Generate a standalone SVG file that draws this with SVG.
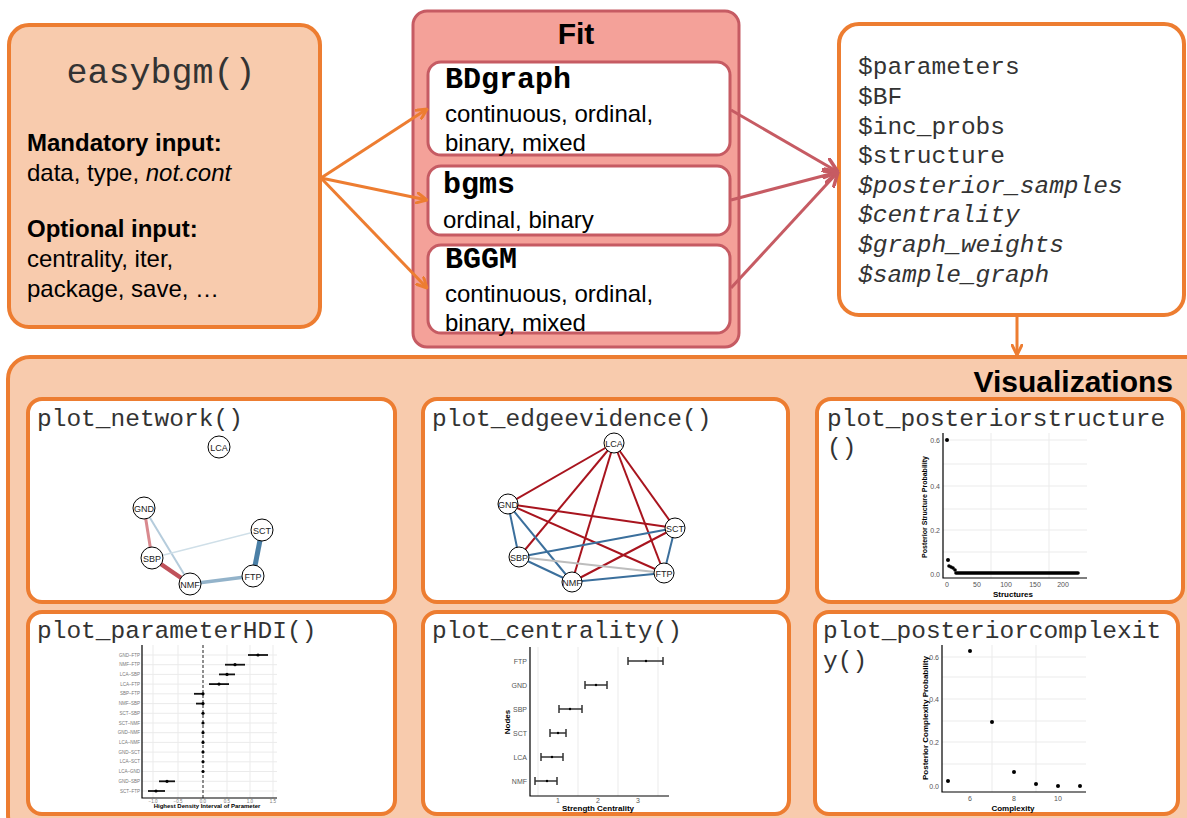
<svg xmlns="http://www.w3.org/2000/svg" width="1187" height="818" viewBox="0 0 1187 818">
<defs>
<marker id="ao" viewBox="0 0 12 12" refX="11" refY="6" markerWidth="12" markerHeight="12" markerUnits="userSpaceOnUse" orient="auto"><path d="M1,1 L11,6 L1,11" fill="none" stroke="#ED7D31" stroke-width="3" stroke-linecap="round"/></marker>
<marker id="ar" viewBox="0 0 16 16" refX="15" refY="8" markerWidth="16" markerHeight="16" markerUnits="userSpaceOnUse" orient="auto"><path d="M1,1 L15,8 L1,15" fill="none" stroke="#C65B63" stroke-width="3.5" stroke-linecap="round"/></marker>
</defs>
<style>
.peach{fill:#F8CBAD;stroke:#ED7D31;stroke-width:4}
.panel{fill:#FFFFFF;stroke:#ED7D31;stroke-width:4}
.fit{fill:#F4A199;stroke:#C65B63;stroke-width:3}
.inner{fill:#FFFFFF;stroke:#C65B63;stroke-width:3}
.sans{font-family:'Liberation Sans',Arial,sans-serif;fill:#000}
.body{font-family:'Liberation Sans',Arial,sans-serif;font-size:24px;fill:#000}
.bold{font-weight:bold}
.mono{font-family:'Liberation Mono','Courier New',monospace;font-size:24.5px;fill:#333}
.pkg{font-family:'Liberation Mono','Courier New',monospace;font-size:30px;font-weight:bold;fill:#000}
.nd{fill:#FFFFFF;stroke:#000;stroke-width:1}
.nl{font-family:'Liberation Sans',Arial,sans-serif;font-size:9px;fill:#222;text-anchor:middle}
.grid{stroke:#EBEBEB;stroke-width:1;fill:none}
.axis{stroke:#000;stroke-width:1.2;fill:none}
.tick{font-family:'Liberation Sans',Arial,sans-serif;font-size:7px;fill:#555}
.alab{font-family:'Liberation Sans',Arial,sans-serif;font-weight:bold;fill:#000;text-anchor:middle}
.hl{font-family:'Liberation Sans',Arial,sans-serif;font-size:4.5px;fill:#777;text-anchor:end}
.ci{stroke:#111;stroke-width:1.8;fill:none}
.eb{stroke:#333;stroke-width:1.5;fill:none}
</style>

<g id="easybgm">
<rect class="peach" x="9" y="25" width="311" height="302" rx="20"/>
<text class="mono" x="161" y="83" text-anchor="middle" style="font-size:35px">easybgm()</text>
<text class="body bold" x="27" y="151">Mandatory input:</text>
<text class="body" x="27" y="181">data, type, <tspan font-style="italic">not.cont</tspan></text>
<text class="body bold" x="27" y="237">Optional input:</text>
<text class="body" x="27" y="267">centrality, iter,</text>
<text class="body" x="27" y="297">package, save, …</text>
</g>

<g id="fit">
<rect class="fit" x="413" y="11" width="326" height="336" rx="14"/>
<text class="sans bold" x="576" y="44" text-anchor="middle" font-size="30">Fit</text>
</g>
<g id="bdgraph">
<rect class="inner" x="428" y="62" width="302" height="93" rx="13"/>
<text class="pkg" x="445" y="88">BDgraph</text>
<text class="body" x="445" y="122">continuous, ordinal,</text>
<text class="body" x="445" y="151">binary, mixed</text>
</g>
<g id="bgms">
<rect class="inner" x="428" y="166" width="302" height="69" rx="13"/>
<text class="pkg" x="443" y="193">bgms</text>
<text class="body" x="443" y="228">ordinal, binary</text>
</g>
<g id="bggm">
<rect class="inner" x="428" y="245" width="302" height="88" rx="13"/>
<text class="pkg" x="445" y="268">BGGM</text>
<text class="body" x="445" y="302">continuous, ordinal,</text>
<text class="body" x="445" y="331">binary, mixed</text>
</g>

<g id="output">
<rect x="839" y="24" width="345" height="291" rx="20" fill="#FFFFFF" stroke="#ED7D31" stroke-width="4"/>
<text class="mono" x="858" y="74">$parameters</text>
<text class="mono" x="858" y="104">$BF</text>
<text class="mono" x="858" y="134">$inc_probs</text>
<text class="mono" x="858" y="163">$structure</text>
<text class="mono" x="858" y="193" font-style="italic">$posterior_samples</text>
<text class="mono" x="858" y="222" font-style="italic">$centrality</text>
<text class="mono" x="858" y="252" font-style="italic">$graph_weights</text>
<text class="mono" x="858" y="282" font-style="italic">$sample_graph</text>
</g>

<g id="visualizations">
<rect class="peach" x="8" y="357" width="1200" height="480" rx="22"/>
<text class="sans bold" x="1173" y="392" text-anchor="end" font-size="30">Visualizations</text>
</g>

<g id="plot_network">
<rect class="panel" x="28" y="399" width="367" height="203" rx="14"/>
<text class="mono" x="37" y="426">plot_network()</text>
<line x1="144" y1="508" x2="152" y2="558" stroke="#D9898E" stroke-width="3"/>
<line x1="144" y1="508" x2="190" y2="584" stroke="#B5CCDC" stroke-width="2"/>
<line x1="152" y1="558" x2="262" y2="530" stroke="#CFDFE8" stroke-width="1.5"/>
<line x1="152" y1="558" x2="190" y2="584" stroke="#C0525B" stroke-width="4.5"/>
<line x1="190" y1="584" x2="253" y2="576" stroke="#93B3CA" stroke-width="3.5"/>
<line x1="262" y1="530" x2="253" y2="576" stroke="#4A7FA6" stroke-width="5"/>
<circle class="nd" cx="219" cy="447" r="11"/><text class="nl" x="219" y="450.5">LCA</text>
<circle class="nd" cx="144" cy="508" r="11"/><text class="nl" x="144" y="511.5">GND</text>
<circle class="nd" cx="262" cy="530" r="11"/><text class="nl" x="262" y="533.5">SCT</text>
<circle class="nd" cx="152" cy="558" r="11"/><text class="nl" x="152" y="561.5">SBP</text>
<circle class="nd" cx="253" cy="576" r="11"/><text class="nl" x="253" y="579.5">FTP</text>
<circle class="nd" cx="190" cy="584" r="11"/><text class="nl" x="190" y="587.5">NMF</text>
</g>

<g id="plot_edgeevidence">
<rect class="panel" x="423" y="399" width="365" height="203" rx="14"/>
<text class="mono" x="432" y="426">plot_edgeevidence()</text>
<g stroke="#A8141E" stroke-width="2">
<line x1="614" y1="443" x2="508" y2="504"/>
<line x1="614" y1="443" x2="519" y2="557"/>
<line x1="614" y1="443" x2="572" y2="582"/>
<line x1="614" y1="443" x2="664" y2="573"/>
<line x1="614" y1="443" x2="675" y2="528"/>
<line x1="508" y1="504" x2="675" y2="528"/>
<line x1="508" y1="504" x2="664" y2="573"/>
<line x1="675" y1="528" x2="572" y2="582"/>
</g>
<g stroke="#3B6F9C" stroke-width="2">
<line x1="508" y1="504" x2="519" y2="557"/>
<line x1="508" y1="504" x2="572" y2="582"/>
<line x1="519" y1="557" x2="675" y2="528"/>
<line x1="519" y1="557" x2="572" y2="582"/>
<line x1="572" y1="582" x2="664" y2="573"/>
<line x1="675" y1="528" x2="664" y2="573"/>
</g>
<line x1="519" y1="557" x2="664" y2="573" stroke="#BDBDBD" stroke-width="2"/>
<circle class="nd" cx="614" cy="443" r="10"/><text class="nl" x="614" y="446.5">LCA</text>
<circle class="nd" cx="508" cy="504" r="10"/><text class="nl" x="508" y="507.5">GND</text>
<circle class="nd" cx="675" cy="528" r="10"/><text class="nl" x="675" y="531.5">SCT</text>
<circle class="nd" cx="519" cy="557" r="10"/><text class="nl" x="519" y="560.5">SBP</text>
<circle class="nd" cx="664" cy="573" r="10"/><text class="nl" x="664" y="576.5">FTP</text>
<circle class="nd" cx="572" cy="582" r="10"/><text class="nl" x="572" y="585.5">NMF</text>
</g>

<g id="plot_posteriorstructure">
<rect class="panel" x="817" y="399" width="366" height="203" rx="14"/>
<text class="mono" x="827" y="426">plot_posteriorstructure</text>
<text class="mono" x="827" y="455">()</text>
<g class="grid">
<line x1="943" y1="440" x2="1087" y2="440"/><line x1="943" y1="464" x2="1087" y2="464"/>
<line x1="943" y1="486" x2="1087" y2="486"/><line x1="943" y1="509" x2="1087" y2="509"/>
<line x1="943" y1="530" x2="1087" y2="530"/><line x1="943" y1="552" x2="1087" y2="552"/>
<line x1="991" y1="433" x2="991" y2="578"/><line x1="1049" y1="433" x2="1049" y2="578"/>
</g>
<path class="axis" d="M943,433 V578 H1087"/>
<g class="tick" text-anchor="end">
<text x="940" y="442.5">0.6</text><text x="940" y="488.5">0.4</text><text x="940" y="532.5">0.2</text><text x="940" y="576.5">0.0</text>
</g>
<g class="tick" text-anchor="middle">
<text x="947" y="587">0</text><text x="977" y="587">50</text><text x="1006" y="587">100</text><text x="1035" y="587">150</text><text x="1063" y="587">200</text>
</g>
<g fill="#000">
<circle cx="947" cy="440" r="2"/><circle cx="948" cy="560" r="2"/>
<circle cx="949" cy="566" r="1.8"/><circle cx="951" cy="567" r="1.8"/><circle cx="953" cy="568" r="1.8"/><circle cx="955" cy="570" r="1.8"/>
</g>
<line x1="956" y1="573" x2="1078" y2="573" stroke="#000" stroke-width="3.6" stroke-linecap="round"/>
<text class="alab" x="0" y="0" font-size="7" transform="translate(927,507) rotate(-90)">Posterior Structure Probability</text>
<text class="alab" x="1013" y="597" font-size="8">Structures</text>
</g>

<g id="plot_parameterHDI">
<rect class="panel" x="28" y="612" width="367" height="202" rx="14"/>
<text class="mono" x="37" y="638">plot_parameterHDI()</text>
<g class="grid">
<line x1="153" y1="645" x2="153" y2="798"/><line x1="178" y1="645" x2="178" y2="798"/><line x1="227" y1="645" x2="227" y2="798"/><line x1="250" y1="645" x2="250" y2="798"/><line x1="273" y1="645" x2="273" y2="798"/>
<line x1="142" y1="655" x2="277" y2="655"/><line x1="142" y1="664.7" x2="277" y2="664.7"/><line x1="142" y1="674.4" x2="277" y2="674.4"/><line x1="142" y1="684.1" x2="277" y2="684.1"/><line x1="142" y1="693.8" x2="277" y2="693.8"/><line x1="142" y1="703.6" x2="277" y2="703.6"/><line x1="142" y1="713.3" x2="277" y2="713.3"/><line x1="142" y1="723" x2="277" y2="723"/><line x1="142" y1="732.7" x2="277" y2="732.7"/><line x1="142" y1="742.4" x2="277" y2="742.4"/><line x1="142" y1="752.1" x2="277" y2="752.1"/><line x1="142" y1="761.8" x2="277" y2="761.8"/><line x1="142" y1="771.5" x2="277" y2="771.5"/><line x1="142" y1="781.3" x2="277" y2="781.3"/><line x1="142" y1="791" x2="277" y2="791"/>
</g>
<line x1="203" y1="645" x2="203" y2="798" stroke="#444" stroke-width="1.2" stroke-dasharray="3,2"/>
<path class="axis" d="M142,645 V798 H277"/>
<g class="hl">
<text x="140" y="656.5">GND–FTP</text><text x="140" y="666.2">NMF–FTP</text><text x="140" y="675.9">LCA–SBP</text><text x="140" y="685.6">LCA–FTP</text><text x="140" y="695.3">SBP–FTP</text><text x="140" y="705.1">NMF–SBP</text><text x="140" y="714.8">SCT–SBP</text><text x="140" y="724.5">SCT–NMF</text><text x="140" y="734.2">GND–NMF</text><text x="140" y="743.9">LCA–NMF</text><text x="140" y="753.6">GND–SCT</text><text x="140" y="763.3">LCA–SCT</text><text x="140" y="773">LCA–GND</text><text x="140" y="782.8">GND–SBP</text><text x="140" y="792.5">SCT–FTP</text>
</g>
<g class="hl" style="text-anchor:middle">
<text x="153" y="802.5">−1.0</text><text x="178" y="802.5">−0.5</text><text x="203" y="802.5">0.0</text><text x="227" y="802.5">0.5</text><text x="250" y="802.5">1.0</text><text x="273" y="802.5">1.5</text>
</g>
<g class="ci">
<line x1="248" y1="655" x2="268" y2="655"/><line x1="225" y1="664.7" x2="245" y2="664.7"/><line x1="219" y1="674.4" x2="235" y2="674.4"/><line x1="209" y1="684.1" x2="229" y2="684.1"/><line x1="194" y1="693.8" x2="204" y2="693.8"/><line x1="196" y1="703.6" x2="204" y2="703.6"/><line x1="159" y1="781.3" x2="175" y2="781.3"/><line x1="148" y1="791" x2="165" y2="791"/>
</g>
<g fill="#000">
<circle cx="258" cy="655" r="1.6"/><circle cx="235" cy="664.7" r="1.6"/><circle cx="227" cy="674.4" r="1.6"/><circle cx="219" cy="684.1" r="1.6"/><circle cx="203" cy="693.8" r="1.6"/><circle cx="203" cy="703.6" r="1.6"/><circle cx="203" cy="713.3" r="1.6"/><circle cx="203" cy="723" r="1.6"/><circle cx="203" cy="732.7" r="1.6"/><circle cx="203" cy="742.4" r="1.6"/><circle cx="203" cy="752.1" r="1.6"/><circle cx="203" cy="761.8" r="1.6"/><circle cx="203" cy="771.5" r="1.6"/><circle cx="167" cy="781.3" r="1.6"/><circle cx="156" cy="791" r="1.6"/>
</g>
<text class="alab" x="207" y="808" font-size="6">Highest Density Interval of Parameter</text>
</g>

<g id="plot_centrality">
<rect class="panel" x="423" y="612" width="366" height="202" rx="14"/>
<text class="mono" x="432" y="638">plot_centrality()</text>
<g class="grid">
<line x1="538" y1="647" x2="538" y2="796"/><line x1="578" y1="647" x2="578" y2="796"/><line x1="618" y1="647" x2="618" y2="796"/><line x1="658" y1="647" x2="658" y2="796"/>
</g>
<path class="axis" d="M530,647 V796 H669"/>
<g class="tick" text-anchor="end">
<text x="527" y="663.5">FTP</text><text x="527" y="687.5">GND</text><text x="527" y="711.5">SBP</text><text x="527" y="735.5">SCT</text><text x="527" y="759.5">LCA</text><text x="527" y="783.5">NMF</text>
</g>
<g class="tick" text-anchor="middle">
<text x="558" y="803">1</text><text x="598" y="803">2</text><text x="638" y="803">3</text>
</g>
<g class="eb">
<path d="M628,657 V665 M628,661 H663 M663,657 V665"/>
<path d="M585,681 V689 M585,685 H607 M607,681 V689"/>
<path d="M559,705 V713 M559,709 H582 M582,705 V713"/>
<path d="M550,729 V737 M550,733 H566 M566,729 V737"/>
<path d="M541,753 V761 M541,757 H563 M563,753 V761"/>
<path d="M535,777 V785 M535,781 H557 M557,777 V785"/>
</g>
<g fill="#000">
<circle cx="646" cy="661" r="1.2"/><circle cx="596" cy="685" r="1.2"/><circle cx="570" cy="709" r="1.2"/><circle cx="558" cy="733" r="1.2"/><circle cx="552" cy="757" r="1.2"/><circle cx="547" cy="781" r="1.2"/>
</g>
<text class="alab" x="0" y="0" font-size="8" transform="translate(510,722) rotate(-90)">Nodes</text>
<text class="alab" x="598" y="811" font-size="8">Strength Centrality</text>
</g>

<g id="plot_posteriorcomplexity">
<rect class="panel" x="815" y="612" width="363" height="202" rx="14"/>
<text class="mono" x="823" y="638">plot_posteriorcomplexit</text>
<text class="mono" x="823" y="668">y()</text>
<g class="grid">
<line x1="942" y1="657" x2="1086" y2="657"/><line x1="942" y1="677" x2="1086" y2="677"/><line x1="942" y1="699" x2="1086" y2="699"/><line x1="942" y1="721" x2="1086" y2="721"/><line x1="942" y1="742" x2="1086" y2="742"/><line x1="942" y1="764" x2="1086" y2="764"/>
<line x1="992" y1="645" x2="992" y2="792"/><line x1="1036" y1="645" x2="1036" y2="792"/>
</g>
<path class="axis" d="M942,645 V792 H1086"/>
<g class="tick" text-anchor="end">
<text x="939" y="659.5">0.6</text><text x="939" y="701.5">0.4</text><text x="939" y="744.5">0.2</text><text x="939" y="788.5">0.0</text>
</g>
<g class="tick" text-anchor="middle">
<text x="970" y="801">6</text><text x="1014" y="801">8</text><text x="1058" y="801">10</text>
</g>
<g fill="#000">
<circle cx="948" cy="781" r="2"/><circle cx="970" cy="651" r="2"/><circle cx="992" cy="722" r="2"/><circle cx="1014" cy="772" r="2"/><circle cx="1036" cy="784" r="2"/><circle cx="1058" cy="786" r="2"/><circle cx="1080" cy="786" r="2"/>
</g>
<text class="alab" x="0" y="0" font-size="8" transform="translate(928,718) rotate(-90)">Posterior Complexity Probability</text>
<text class="alab" x="1013" y="811" font-size="8">Complexity</text>
</g>

<g id="connectors" fill="none">
<line x1="321" y1="178" x2="427" y2="109" stroke="#ED7D31" stroke-width="3" marker-end="url(#ao)"/>
<line x1="321" y1="178" x2="427" y2="200" stroke="#ED7D31" stroke-width="3" marker-end="url(#ao)"/>
<line x1="321" y1="178" x2="427" y2="288" stroke="#ED7D31" stroke-width="3" marker-end="url(#ao)"/>
<line x1="731" y1="110" x2="838" y2="172" stroke="#C65B63" stroke-width="3" marker-end="url(#ar)"/>
<line x1="731" y1="200" x2="838" y2="172" stroke="#C65B63" stroke-width="3" marker-end="url(#ar)"/>
<line x1="731" y1="288" x2="838" y2="172" stroke="#C65B63" stroke-width="3" marker-end="url(#ar)"/>
<line x1="1017" y1="317" x2="1017" y2="355" stroke="#ED7D31" stroke-width="3" marker-end="url(#ao)"/>
</g>
</svg>
